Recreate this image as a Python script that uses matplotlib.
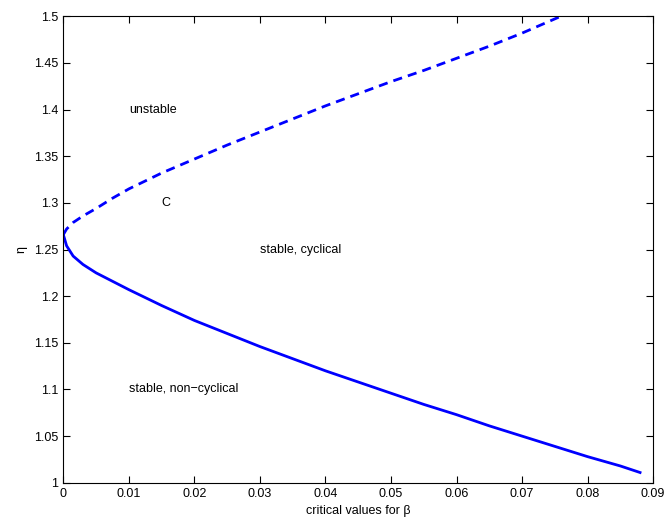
import numpy as np
import matplotlib.pyplot as plt

plt.rcParams['font.family'] = ['Liberation Sans', 'DejaVu Sans']

# upper branch (dashed)
beta_up = [0.0, 0.0005, 0.0015, 0.003, 0.005, 0.0075, 0.01, 0.015, 0.02, 0.025,
           0.03, 0.035, 0.04, 0.045, 0.05, 0.055, 0.06, 0.065, 0.07, 0.0759]
eta_up = [1.266, 1.272, 1.279, 1.286, 1.294, 1.305, 1.315, 1.332, 1.347, 1.362,
          1.376, 1.390, 1.404, 1.417, 1.430, 1.442, 1.455, 1.468, 1.482, 1.5]

# lower branch (solid)
beta_lo = [0.0, 0.0005, 0.0015, 0.003, 0.005, 0.0075, 0.01, 0.015, 0.02, 0.025,
           0.03, 0.035, 0.04, 0.045, 0.05, 0.055, 0.06, 0.065, 0.07, 0.075,
           0.08, 0.085, 0.088]
eta_lo = [1.266, 1.254, 1.243, 1.234, 1.225, 1.216, 1.207, 1.190, 1.174, 1.160,
          1.146, 1.133, 1.120, 1.108, 1.096, 1.084, 1.073, 1.061, 1.050, 1.039,
          1.028, 1.018, 1.011]

fig = plt.figure(figsize=(6.68, 5.18), dpi=100)
ax = fig.add_axes([0.0948, 0.068, 0.883, 0.9005])

ax.plot(beta_up, eta_up, '--', color='#0000ff', lw=2, dashes=(3.3, 2.2))
ax.plot(beta_lo, eta_lo, '-', color='#0000ff', lw=2)

ax.text(0.01, 1.4, 'unstable', fontsize=9, va='center')
ax.text(0.015, 1.3, 'C', fontsize=9, va='center')
ax.text(0.03, 1.25, 'stable, cyclical', fontsize=9, va='center')
ax.text(0.01, 1.1, 'stable, non\u2212cyclical', fontsize=9, va='center')

ax.set_xlim(0, 0.09)
ax.set_ylim(1, 1.5)
ax.set_xticks(np.arange(0, 0.0901, 0.01))
ax.set_yticks(np.arange(1, 1.501, 0.05))
ax.set_xticklabels(['0', '0.01', '0.02', '0.03', '0.04', '0.05', '0.06', '0.07', '0.08', '0.09'])
ax.set_yticklabels(['1', '1.05', '1.1', '1.15', '1.2', '1.25', '1.3', '1.35', '1.4', '1.45', '1.5'])
ax.tick_params(direction='in', top=True, right=True, length=5, labelsize=9, width=0.8)
for s in ax.spines.values():
    s.set_linewidth(0.8)

ax.set_xlabel('critical values for \u03b2', fontsize=9, labelpad=4)
ax.set_ylabel('\u03b7', fontsize=9, labelpad=5)

fig.savefig('out.png', dpi=100)
